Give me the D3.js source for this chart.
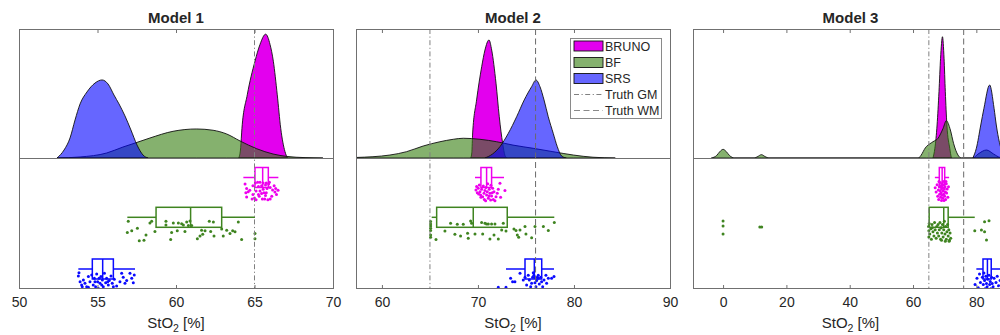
<!DOCTYPE html>
<html><head><meta charset="utf-8">
<script src="https://cdn.jsdelivr.net/npm/d3@7"></script>
<style>
body{margin:0;background:#fff}
svg{display:block}
text{font-family:"Liberation Sans",Arial,Helvetica,sans-serif;fill:#262626}
</style>
</head><body><svg id="chart" width="1000" height="335"></svg>
<script>
// ---------------- DATA ----------------
const panelTitles = ["Model 1", "Model 2", "Model 3"];
const seriesNames = ["BRUNO", "BF", "SRS"];
const xDomains = [[50, 70], [57.3, 90], [-9.5, 90]];
const xTickValues = [[50, 55, 60, 65, 70], [60, 70, 80, 90], [0, 20, 40, 60, 80]];
const truthGM = 65;
const truthWM = 76;
const xLabelMain = "StO";
const xLabelSub = "2";
const xLabelTail = " [%]";
const legendLabels = ["BRUNO", "BF", "SRS", "Truth GM", "Truth WM"];

// density curves: [StO2 value, relative density height]
const densBRUNO1 = [[64.0,0],[64.12,0.08],[64.2,0.23],[64.54,0.49],[65.03,0.75],[65.35,0.88],[65.71,0.96],[65.99,0.88],[66.2,0.75],[66.45,0.49],[66.67,0.23],[66.94,0.05],[67.1,0]];
const densBF1 = [[52.42,0],[53.89,0.008],[55.59,0.039],[56.62,0.085],[57.39,0.116],[58.34,0.155],[59.81,0.207],[61.32,0.225],[62.36,0.215],[63.23,0.186],[64.08,0.132],[65.14,0.072],[66.18,0.031],[67.07,0.012],[68.22,0.003],[69.36,0]];
const densSRS1 = [[52.42,0],[52.87,0.062],[53.25,0.155],[53.57,0.295],[53.89,0.419],[54.33,0.512],[54.84,0.581],[55.29,0.605],[55.67,0.574],[56.05,0.488],[56.37,0.419],[56.75,0.326],[57.13,0.217],[57.52,0.1],[57.9,0.023],[58.22,0]];

const densBRUNO2 = [[69.25,0],[69.36,0.04],[69.45,0.194],[69.86,0.45],[70.39,0.708],[70.73,0.837],[71.15,0.915],[71.43,0.837],[71.88,0.58],[72.22,0.32],[72.57,0.114],[72.81,0.02],[73.0,0]];
const densBF2 = [[57.3,0.004],[60.83,0.023],[62.57,0.049],[64.3,0.093],[66.04,0.126],[67.43,0.145],[68.47,0.153],[70.21,0.145],[71.95,0.126],[73.65,0.1],[75.76,0.075],[77.81,0.049],[79.93,0.023],[81.98,0.006],[84.3,0]];
const densSRS2 = [[70.73,0],[71.5,0.03],[72.29,0.088],[73.16,0.191],[74.03,0.32],[74.82,0.45],[75.59,0.553],[76.04,0.605],[76.46,0.553],[76.88,0.45],[77.32,0.32],[77.84,0.191],[78.26,0.088],[78.72,0.015],[79.2,0]];

const densBRUNO3 = [[66.3,0],[66.9,0.075],[67.6,0.256],[68.2,0.514],[68.7,0.773],[69.3,0.94],[69.8,0.773],[70.2,0.514],[70.7,0.256],[71.6,0.075],[72.1,0]];
const densBF3 = [[-3.7,0],[-2,0.02],[-1,0.05],[0,0.067],[1,0.05],[2,0.02],[3.7,0],[9.8,0],[11,0.012],[12.1,0.026],[13.2,0.012],[14.5,0],[61.6,0],[64.2,0.088],[66.3,0.126],[67.9,0.153],[69.5,0.23],[70.5,0.289],[71.8,0.217],[72.8,0.114],[74.2,0.023],[75.3,0],[78.9,0],[80.5,0.03],[83.2,0.062],[85.5,0.03],[87.4,0.005],[89,0]];
const densSRS3 = [[78.9,0],[80.0,0.075],[81.4,0.256],[82.4,0.385],[84.2,0.566],[85.6,0.385],[86.3,0.256],[87.3,0.12],[88.5,0.03],[89.5,0]];

// box statistics: [lower whisker, q1, median, q3, upper whisker]
const boxBRUNO = [[64.29,65.03,65.52,65.88,66.52],[69.69,70.31,70.9,71.42,72.71],[66.9,68.3,69.2,70.0,71.4]];
const boxBF = [[56.9,58.73,60.93,62.91,65.03],[65.18,65.7,69.51,73.05,77.95],[65.0,65.1,69.7,71.1,79.5]];
const boxSRS = [[53.78,54.67,55.33,56.01,57.39],[72.92,74.9,75.87,76.64,77.92],[80.0,82.1,83.5,84.7,88.0]];

// raw points: [StO2 value, jitter fraction]
const dotsBRUNO1 = [[64.4,0.17],[64.5,0.38],[64.45,0.58],[64.5,0.78],[64.7,0.47],[64.9,0.67],[65.0,0.83],[65.1,0.92],[65.25,0.28],[65.35,0.5],[65.45,0.62],[65.55,0.42],[65.65,0.88],[65.75,0.58],[65.85,0.92],[65.9,0.17],[66.0,0.33],[66.1,0.75],[66.15,0.45],[66.25,0.25],[66.3,0.55],[66.4,0.67],[66.5,0.47],[65.2,0.08],[65.35,0.08],[65.55,0.12],[65.75,0.12],[65.95,0.08],[64.9,0.25],[65.1,0.5],[65.3,0.75],[65.5,0.88],[65.7,0.72],[65.8,0.38],[65.45,0.25],[65.05,0.12],[64.85,0.88],[64.6,0.53],[66.35,0.38],[66.0,0.88],[65.6,0.58],[65.25,0.67],[65.7,0.22]];
const dotsBF1 = [[56.96,0.05],[56.9,0.58],[57.18,0.5],[57.54,0.38],[57.66,0.97],[57.96,0.95],[58.09,0.7],[58.34,0.13],[58.45,0.05],[58.66,0.53],[59.36,0.05],[59.36,0.22],[59.66,0.92],[59.72,0.58],[59.83,0.13],[60.08,0.5],[60.15,0.13],[60.36,0.17],[60.47,0.22],[60.57,0.53],[60.68,0.08],[60.79,0.25],[60.89,0.03],[61.0,0.25],[61.36,0.88],[61.53,0.75],[61.63,0.47],[61.7,0.67],[61.85,0.5],[62.12,0.05],[62.21,0.53],[62.38,0.08],[62.42,0.75],[62.91,0.42],[63.01,0.75],[63.23,0.47],[63.44,0.63],[63.61,0.5],[63.76,0.55],[63.97,0.08],[64.18,0.92],[65.03,0.63],[65.03,0.88]];
const dotsSRS1 = [[53.82,0.03],[53.78,0.19],[53.89,0.46],[53.99,0.62],[54.1,0.38],[54.2,0.54],[54.31,0.7],[54.42,0.22],[54.52,0.46],[54.63,0.14],[54.73,0.62],[54.8,0.3],[54.88,0.7],[54.95,0.1],[55.01,0.46],[55.05,0.78],[55.16,0.54],[55.22,0.22],[55.31,0.38],[55.37,0.7],[55.44,0.06],[55.52,0.51],[55.58,0.3],[55.69,0.62],[55.75,0.41],[55.86,0.19],[55.94,0.54],[56.07,0.35],[56.22,0.67],[56.43,0.46],[56.54,0.06],[56.64,0.25],[56.75,0.54],[56.86,0.41],[57.07,0.06],[57.18,0.3],[57.28,0.51],[57.34,0.14],[54.42,0.73],[54.84,0.46],[55.27,0.62],[55.65,0.46],[56.01,0.7],[54.03,0.7],[55.1,0.3]];

const dotsBRUNO2 = [[69.79,0.45],[69.86,0.29],[69.93,0.58],[70.03,0.37],[70.14,0.21],[70.21,0.53],[70.28,0.69],[70.38,0.42],[70.49,0.77],[70.56,0.26],[70.63,0.61],[70.73,0.48],[70.83,0.33],[70.9,0.69],[70.97,0.53],[71.08,0.85],[71.18,0.42],[71.25,0.61],[71.32,0.93],[71.42,0.74],[71.53,0.37],[71.6,0.9],[71.67,0.53],[71.77,0.96],[71.88,0.77],[72.01,0.61],[72.12,0.42],[72.29,0.13],[72.36,0.8],[72.81,0.48],[71.01,0.16],[70.66,0.9],[70.31,0.8],[71.35,0.23],[71.15,0.74],[70.07,0.64],[70.8,0.96],[71.49,0.58]];
const dotsBF2 = [[65.07,0.06],[65.07,0.18],[65.07,0.27],[65.07,0.38],[65.07,0.49],[65.07,0.7],[65.07,0.81],[65.63,0.91],[66.56,0.51],[67.15,0.14],[67.6,0.67],[67.85,0.19],[68.19,0.75],[68.47,0.19],[68.92,0.62],[68.99,0.86],[69.24,0.03],[69.34,0.14],[69.69,0.65],[70.38,0.11],[70.49,0.65],[70.73,0.14],[70.9,0.18],[71.08,0.18],[71.25,0.89],[71.42,0.18],[71.67,0.7],[71.77,0.18],[72.12,0.89],[72.47,0.46],[72.64,0.14],[72.92,0.51],[73.75,0.41],[73.96,0.49],[74.1,0.7],[74.24,0.81],[74.38,0.46],[74.9,0.3],[75.0,0.65],[75.59,0.83],[75.94,0.3],[76.81,0.3],[77.33,0.49],[77.95,0.1]];
const dotsSRS2 = [[72.12,0.73],[72.92,0.73],[73.4,0.3],[73.61,0.46],[73.85,0.46],[74.38,0.06],[74.72,0.38],[74.9,0.25],[75.07,0.62],[75.24,0.16],[75.35,0.38],[75.49,0.7],[75.59,0.54],[75.69,0.25],[75.76,0.03],[75.83,0.16],[76.04,0.7],[76.11,0.41],[76.18,0.25],[76.28,0.16],[76.39,0.57],[76.53,0.25],[76.63,0.46],[76.74,0.7],[76.88,0.38],[77.08,0.16],[77.15,0.54],[77.33,0.3],[77.67,0.3],[77.92,0.21],[75.94,0.51],[76.28,0.3]];

const dotsBRUNO3 = [[67.0,0.35],[67.3,0.55],[67.6,0.2],[67.8,0.75],[68.0,0.45],[68.1,0.9],[68.3,0.3],[68.4,0.65],[68.5,0.1],[68.6,0.5],[68.7,0.8],[68.8,0.25],[68.9,0.6],[69.0,0.4],[69.0,0.95],[69.1,0.15],[69.2,0.7],[69.3,0.35],[69.4,0.85],[69.5,0.5],[69.6,0.2],[69.7,0.65],[69.8,0.95],[69.9,0.4],[70.0,0.75],[70.1,0.3],[70.2,0.55],[70.3,0.9],[70.5,0.15],[70.6,0.6],[70.8,0.4],[71.0,0.8],[71.2,0.3],[68.2,0.05],[69.5,0.05],[70.4,0.05]];
const dotsBF3 = [[0,0.03],[0,0.27],[0,0.65],[11.6,0.32],[12.2,0.32],[64.9,0.3],[65.0,0.5],[65.0,0.8],[65.1,0.15],[65.3,0.65],[65.6,0.4],[65.8,0.9],[66.0,0.2],[66.3,0.55],[66.6,0.75],[66.8,0.1],[67.0,0.45],[67.3,0.85],[67.5,0.3],[67.7,0.6],[67.9,0.2],[68.1,0.75],[68.3,0.45],[68.5,0.1],[68.7,0.9],[68.9,0.35],[69.1,0.6],[69.3,0.2],[69.5,0.8],[69.7,0.45],[69.9,0.05],[70.1,0.65],[70.3,0.3],[70.5,0.9],[70.7,0.55],[70.9,0.2],[71.1,0.75],[71.3,0.45],[71.5,0.95],[71.7,0.6],[71.9,0.85],[69.0,0.95],[70.2,1.0],[71.4,1.0],[66.1,0.35],[79.5,0.5],[81.6,0.46],[82.6,0.54],[82.6,0.07],[84.0,0.02],[83.2,0.94]];
const dotsSRS3 = [[79.6,0.6],[80.2,0.3],[80.6,0.75],[81.0,0.1],[81.3,0.5],[81.6,0.85],[81.9,0.25],[82.2,0.6],[82.4,0.05],[82.6,0.4],[82.8,0.8],[83.0,0.2],[83.2,0.55],[83.4,0.7],[83.6,0.35],[83.8,0.9],[84.0,0.15],[84.2,0.6],[84.4,0.45],[84.6,0.8],[84.8,0.25],[85.0,0.55],[85.3,0.7],[85.6,0.3],[85.9,0.85],[86.2,0.5],[86.6,0.2],[87.0,0.65],[87.5,0.4],[88.0,0.75]];

// ---------------- LAYOUT / STYLE ----------------
const panelX = [[19, 333], [356, 670], [693, 1008]];
const topY = 29, midY = 158, botY = 288;
const rowCenter = [19.5, 59.3, 111];   // offset of each box row below midY
const jitterTop = 3, jitterSpan = 21;
const fills = ["#e300ee", "rgb(52,125,14)", "#0000ff"];
const fillOpacity = [1, 0.6, 0.6];
const pointColors = ["#ee00ee", "#3f8420", "#0a0aff"];
const axisColor = "#707070";

const panels = [
  {dens: [densBRUNO1, densBF1, densSRS1], boxes: [boxBRUNO[0], boxBF[0], boxSRS[0]], dots: [dotsBRUNO1, dotsBF1, dotsSRS1]},
  {dens: [densBRUNO2, densBF2, densSRS2], boxes: [boxBRUNO[1], boxBF[1], boxSRS[1]], dots: [dotsBRUNO2, dotsBF2, dotsSRS2]},
  {dens: [densBRUNO3, densBF3, densSRS3], boxes: [boxBRUNO[2], boxBF[2], boxSRS[2]], dots: [dotsBRUNO3, dotsBF3, dotsSRS3]}
];

const svg = d3.select("#chart");
const yDens = d3.scaleLinear().domain([0, 1]).range([midY, topY]);

panels.forEach((p, i) => {
  const x = d3.scaleLinear().domain(xDomains[i]).range(panelX[i]);
  const [x0, x1] = panelX[i];
  const g = svg.append("g");
  const clipId = "clip" + i;
  svg.append("clipPath").attr("id", clipId).append("rect")
    .attr("x", x0).attr("y", topY).attr("width", x1 - x0).attr("height", botY - topY);
  const plot = g.append("g").attr("clip-path", `url(#${clipId})`);

  // densities
  const area = d3.area().x(d => x(d[0])).y0(yDens(0)).y1(d => yDens(d[1])).curve(d3.curveMonotoneX);
  p.dens.forEach((dd, s) => {
    plot.append("path").attr("d", area(dd))
      .attr("fill", fills[s]).attr("fill-opacity", fillOpacity[s])
      .attr("stroke", "#111").attr("stroke-width", 0.9).attr("stroke-linejoin", "round");
  });

  // dots and boxes
  p.dots.forEach((dd, s) => {
    const cy = midY + rowCenter[s];
    plot.append("g").selectAll("circle").data(dd).join("circle")
      .attr("cx", d => x(d[0])).attr("cy", d => cy + jitterTop + d[1] * jitterSpan)
      .attr("r", 1.5).attr("fill", pointColors[s]);
  });
  p.boxes.forEach((b, s) => {
    const cy = midY + rowCenter[s];
    const bg = plot.append("g").attr("stroke", pointColors[s]).attr("stroke-width", 1.5).attr("fill", "none");
    bg.append("rect").attr("x", x(b[1])).attr("y", cy - 10).attr("width", x(b[3]) - x(b[1])).attr("height", 20);
    bg.append("line").attr("x1", x(b[2])).attr("x2", x(b[2])).attr("y1", cy - 10).attr("y2", cy + 10);
    bg.append("line").attr("x1", x(b[0])).attr("x2", x(b[1])).attr("y1", cy).attr("y2", cy);
    bg.append("line").attr("x1", x(b[3])).attr("x2", x(b[4])).attr("y1", cy).attr("y2", cy);
  });

  // truth lines
  [[truthGM, "5,2.5,1.2,2.5", "#808080"], [truthWM, "6,3.5", "#6a6a6a"]].forEach(([v, dash, col]) => {
    if (v >= xDomains[i][0] && v <= xDomains[i][1]) {
      plot.append("line").attr("x1", x(v)).attr("x2", x(v)).attr("y1", topY).attr("y2", botY)
        .attr("stroke", col).attr("stroke-width", 1).attr("stroke-dasharray", dash);
    }
  });

  // axes frames
  const frame = g.append("g").attr("fill", "none").attr("stroke", axisColor).attr("stroke-width", 1);
  frame.append("rect").attr("x", x0 + 0.5).attr("y", topY + 0.5).attr("width", x1 - x0).attr("height", midY - topY);
  frame.append("rect").attr("x", x0 + 0.5).attr("y", midY + 0.5).attr("width", x1 - x0).attr("height", botY - midY);

  // bottom axis (ticks inward) and top ticks
  const axB = d3.axisBottom(x).tickValues(xTickValues[i]).tickSize(-3.5).tickPadding(9).tickFormat(d3.format("d"));
  const ga = g.append("g").attr("transform", `translate(0,${botY + 0.5})`).call(axB);
  ga.select(".domain").remove();
  ga.selectAll(".tick line").attr("stroke", axisColor);
  ga.selectAll(".tick text").attr("font-size", 14).attr("fill", "#262626")
    .style("font-family", '"Liberation Sans",Arial,sans-serif');
  const axT = d3.axisTop(x).tickValues(xTickValues[i]).tickSize(-3.5).tickFormat("");
  const gt = g.append("g").attr("transform", `translate(0,${topY + 0.5})`).call(axT);
  gt.select(".domain").remove();
  gt.selectAll(".tick line").attr("stroke", axisColor);

  // title
  const cx = (x0 + x1) / 2;
  g.append("text").attr("x", cx).attr("y", 22.5).attr("text-anchor", "middle")
    .attr("font-size", 15).attr("font-weight", "bold").attr("fill", "#111").text(panelTitles[i]);

  // x label
  const lab = g.append("text").attr("x", cx).attr("y", 328).attr("text-anchor", "middle").attr("font-size", 15);
  lab.append("tspan").text(xLabelMain);
  lab.append("tspan").attr("font-size", 10.5).attr("dy", 4).text(xLabelSub);
  lab.append("tspan").attr("dy", -4).text(xLabelTail);
});

// legend (in panel 2)
const lg = svg.append("g");
lg.append("rect").attr("x", 570.5).attr("y", 38.5).attr("width", 91).attr("height", 80)
  .attr("fill", "#fff").attr("stroke", "#8a8a8a").attr("stroke-width", 1);
const legY = [46, 62.5, 78.5, 94.5, 110.5];
legendLabels.forEach((lab, k) => {
  const cy = legY[k];
  if (k < 3) {
    lg.append("rect").attr("x", 574).attr("y", cy - 5).attr("width", 29).attr("height", 10)
      .attr("fill", fills[k]).attr("fill-opacity", fillOpacity[k]).attr("stroke", "#111").attr("stroke-width", 0.9);
  } else {
    lg.append("line").attr("x1", 574).attr("x2", 603).attr("y1", cy).attr("y2", cy)
      .attr("stroke", k === 3 ? "#808080" : "#8a8a8a").attr("stroke-width", 1)
      .attr("stroke-dasharray", k === 3 ? "5,2.5,1.2,2.5" : "6,3.5");
  }
  lg.append("text").attr("x", 605).attr("y", cy + 4.5).attr("font-size", 12.5).text(lab);
});
</script>
</body></html>
